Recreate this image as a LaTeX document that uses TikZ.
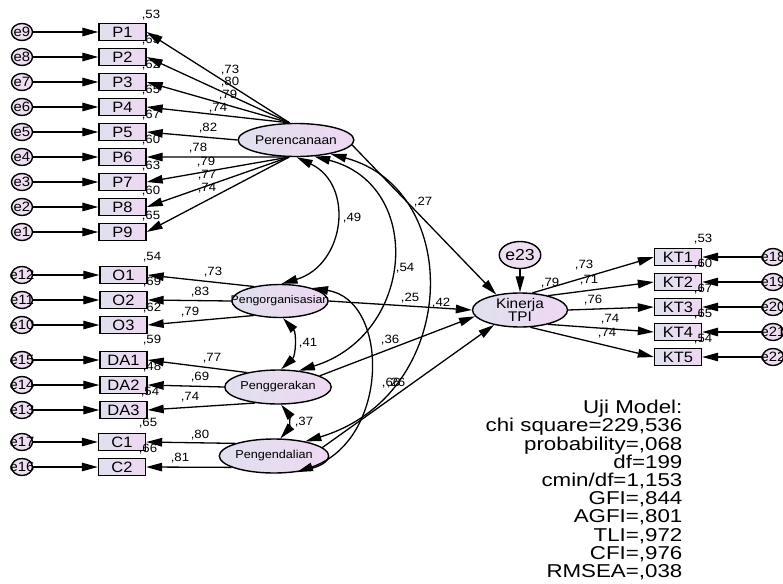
\documentclass[tikz,border=0pt]{standalone}
\usepackage{fontspec}
\setmainfont{Liberation Sans}[FakeStretch=1.1]
\newfontfamily\statfam{Liberation Sans}[FakeStretch=1.2]
\usetikzlibrary{arrows.meta,shapes.geometric}
\definecolor{shL}{RGB}{224,224,238}
\definecolor{shR}{RGB}{238,216,242}
\definecolor{errfill}{RGB}{238,222,242}
\newcommand{\statfnt}{\statfam\fontsize{18.6}{18.2}\selectfont\setlength{\lineskiplimit}{-30pt}}
\newcommand{\ez}[1]{\makebox[0pt]{#1}}
\begin{document}
\begin{tikzpicture}[x=1pt,y=-1pt,line width=1.3pt,
  box/.style={draw,line width=1.4pt,left color=shL,right color=shR,minimum width=47pt,minimum height=17pt,inner sep=0pt,font=\fontsize{15}{15}\selectfont},
  lat/.style={ellipse,draw,line width=1.4pt,left color=shL,right color=shR,inner sep=0pt},
  err/.style={ellipse,draw,line width=1.4pt,fill=errfill,minimum width=21pt,minimum height=17pt,inner sep=0pt,font=\fontsize{13.5}{13.5}\selectfont},
  lab/.style={inner sep=0pt,font=\fontsize{12}{12}\selectfont},
  arr/.style={-{Triangle[length=16pt,width=8.5pt]}},
  dbl/.style={{Triangle[length=16pt,width=8.5pt]}-{Triangle[length=16pt,width=8.5pt]}}]
\useasboundingbox (0,0) rectangle (783,583);

% latent variables
\node[lat,minimum width=95pt,minimum height=33pt,font=\fontsize{12.5}{12.5}\selectfont] (Per) at (296,140) {Perencanaan};
\node[lat,minimum width=96pt,minimum height=33pt,font=\fontsize{11.2}{11.2}\selectfont] (Org) at (280,301) {\ez{Pengorganisasian}};
\node[lat,minimum width=87pt,minimum height=34pt,font=\fontsize{11.5}{11.5}\selectfont] (Ger) at (278,387) {Penggerakan};
\node[lat,minimum width=95pt,minimum height=34pt,font=\fontsize{11.5}{11.5}\selectfont] (Ken) at (274,456) {Pengendalian};
\node[lat,minimum width=95pt,minimum height=34pt,align=center,font=\fontsize{14}{13.5}\selectfont] (Kin) at (520,310) {Kinerja\\TPI};
\node[err,minimum width=37pt,minimum height=27pt,font=\fontsize{16}{16}\selectfont] (e23) at (520,255) {e23};

% P indicators
\foreach \i/\y/\e in {1/32/9,2/57/8,3/82/7,4/107/6,5/132/5,6/157/4,7/182/3,8/207/2,9/232/1}{
  \node[box] (P\i) at (122.5,\y) {P\i};
  \node[err] (e\e) at (22,\y) {\ez{e\e}};
  \draw[arr] (e\e) -- (P\i);
}
% O indicators
\foreach \i/\y/\e in {1/275/12,2/300/11,3/325/10}{
  \node[box] (O\i) at (123.5,\y) {O\i};
  \node[err] (e\e) at (22,\y) {\ez{e\e}};
  \draw[arr] (e\e) -- (O\i);
}
% DA indicators
\foreach \i/\y/\e in {1/360/15,2/385/14,3/410/13}{
  \node[box] (DA\i) at (123.5,\y) {DA\i};
  \node[err] (e\e) at (22,\y) {\ez{e\e}};
  \draw[arr] (e\e) -- (DA\i);
}
% C indicators
\foreach \i/\y/\e in {1/442/17,2/467/16}{
  \node[box] (C\i) at (122,\y) {C\i};
  \node[err] (e\e) at (22,\y) {\ez{e\e}};
  \draw[arr] (e\e) -- (C\i);
}
% KT indicators
\foreach \i/\y/\e in {1/257/18,2/282/19,3/307/20,4/332/21,5/357/22}{
  \node[box] (KT\i) at (678,\y) {KT\i};
  \node[err] (e\e) at (773,\y) {\ez{e\e}};
  \draw[arr] (e\e) -- (KT\i);
}

% loadings
\draw[arr] (Per.110) -- (P1.east);
\draw[arr] (Per.110) -- (P2.east);
\draw[arr] (Per.110) -- (P3.east);
\draw[arr] (Per.110) -- (P4.east);
\draw[arr] (Per.west) -- (P5.east);
\draw[arr] (Per.248) -- (P6.east);
\draw[arr] (Per.248) -- (P7.east);
\draw[arr] (Per.248) -- (P8.east);
\draw[arr] (Per.248) -- (P9.east);
\draw[arr] (Org.151) -- (O1.east);
\draw[arr] (Org.west) -- (O2.east);
\draw[arr] (Org.209) -- (O3.east);
\draw[arr] (Ger.155) -- (DA1.east);
\draw[arr] (Ger.west) -- (DA2.east);
\draw[arr] (Ger.215) -- (DA3.east);
\draw[arr] (Ken.162) -- (C1.east);
\draw[arr] (Ken.195) -- (C2.east);
\draw[arr] (Kin.54) -- (KT1.west);
\draw[arr] (Kin.27) -- (KT2.west);
\draw[arr] (Kin.east) -- (KT3.west);
\draw[arr] (Kin.-27) -- (KT4.west);
\draw[arr] (Kin.-59) -- (KT5.west);
\draw[arr] (e23) -- (Kin);

% structural paths
\draw[arr] (Per.-5) -- (Kin.147);
\draw[arr] (Org.east) -- (Kin.west);
\draw[arr] (Ger.15) -- (Kin.188);
\draw[arr] (Ken.10) -- (Kin.210);

% correlations
\draw[dbl] (Per.272) .. controls (355,185) and (345,265) .. (Org.85);
\draw[dbl] (Per.318) .. controls (425,185) and (415,335) .. (Ger.38);
\draw[dbl] (Per.338) .. controls (465,190) and (460,395) .. (Ken.25);
\draw[dbl] (Org.22) .. controls (390,300) and (390,440) .. (Ken.-35);
\draw[dbl] (Org.280) to[bend left=45] (Ger.80);
\draw[dbl] (Ger.280) to[bend left=40] (Ken.70);

% loading labels
\node[lab] (lp1) at (230,70) {,73};
\node[lab] (lp2) at (230,82) {,80};
\node[lab] (lp3) at (228,95) {,79};
\node[lab] (lp4) at (218,108) {,74};
\node[lab] (lp5) at (208,128) {,82};
\node[lab] (lp6) at (198,148) {,78};
\node[lab] (lp7) at (206,162) {,79};
\node[lab] (lp8) at (207,175) {,77};
\node[lab] (lp9) at (207,188) {,74};
\node[lab] (lo1) at (213,272) {,73};
\node[lab] (lo2) at (200,292) {,83};
\node[lab] (lo3) at (190,312) {,79};
\node[lab] (ld1) at (212,358) {,77};
\node[lab] (ld2) at (200,377) {,69};
\node[lab] (ld3) at (190,397) {,74};
\node[lab] (lc1) at (200,435) {,80};
\node[lab] (lc2) at (180,458) {,81};
\node[lab] (lk1) at (584,265) {,73};
\node[lab] (lk2) at (589,280) {,71};
\node[lab] (lk3) at (593,300) {,76};
\node[lab] (lk4) at (610,319) {,74};
\node[lab] (lk5) at (607,333) {,74};

% R squared labels
\node[lab] (rp1) at (151,15) {,53};
\node[lab] (rp2) at (151,40) {,63};
\node[lab] (rp3) at (151,65) {,62};
\node[lab] (rp4) at (151,90) {,65};
\node[lab] (rp5) at (151,115) {,67};
\node[lab] (rp6) at (151,140) {,60};
\node[lab] (rp7) at (151,166) {,63};
\node[lab] (rp8) at (151,191) {,60};
\node[lab] (rp9) at (151,216) {,65};
\node[lab] (ro1) at (152,257) {,54};
\node[lab] (ro2) at (152,282) {,69};
\node[lab] (ro3) at (152,308) {,62};
\node[lab] (rd1) at (152,340) {,59};
\node[lab] (rd2) at (152,367) {,48};
\node[lab] (rd3) at (150,392) {,54};
\node[lab] (rc1) at (148,423) {,65};
\node[lab] (rc2) at (148,449) {,66};
\node[lab] (rk1) at (703,239) {,53};
\node[lab] (rk2) at (703,264) {,60};
\node[lab] (rk3) at (703,289) {,67};
\node[lab] (rk4) at (703,314) {,65};
\node[lab] (rk5) at (703,339) {,54};

% structural and correlation labels
\node[lab] (s27) at (423,202) {,27};
\node[lab] (s25) at (410,298) {,25};
\node[lab] (s42) at (441,303) {,42};
\node[lab] (s36) at (390,340) {,36};
\node[lab] (s66) at (391,383) {,66};
\node[lab] (s26) at (396,383) {,26};
\node[lab] (s79) at (550,283) {,79};
\node[lab] (c49) at (352,218) {,49};
\node[lab] (c54) at (405,268) {,54};
\node[lab] (c41) at (308,343) {,41};
\node[lab] (c37) at (304,422) {,37};

% fit statistics
\node[anchor=north east,align=right,inner sep=0pt,font={\statfnt}] (stats) at (683,399.5)
 {Uji Model:\\chi square=229,536\\probability=,068\\df=199\\cmin/df=1,153\\GFI=,844\\AGFI=,801\\TLI=,972\\CFI=,976\\RMSEA=,038};
\end{tikzpicture}
\end{document}
